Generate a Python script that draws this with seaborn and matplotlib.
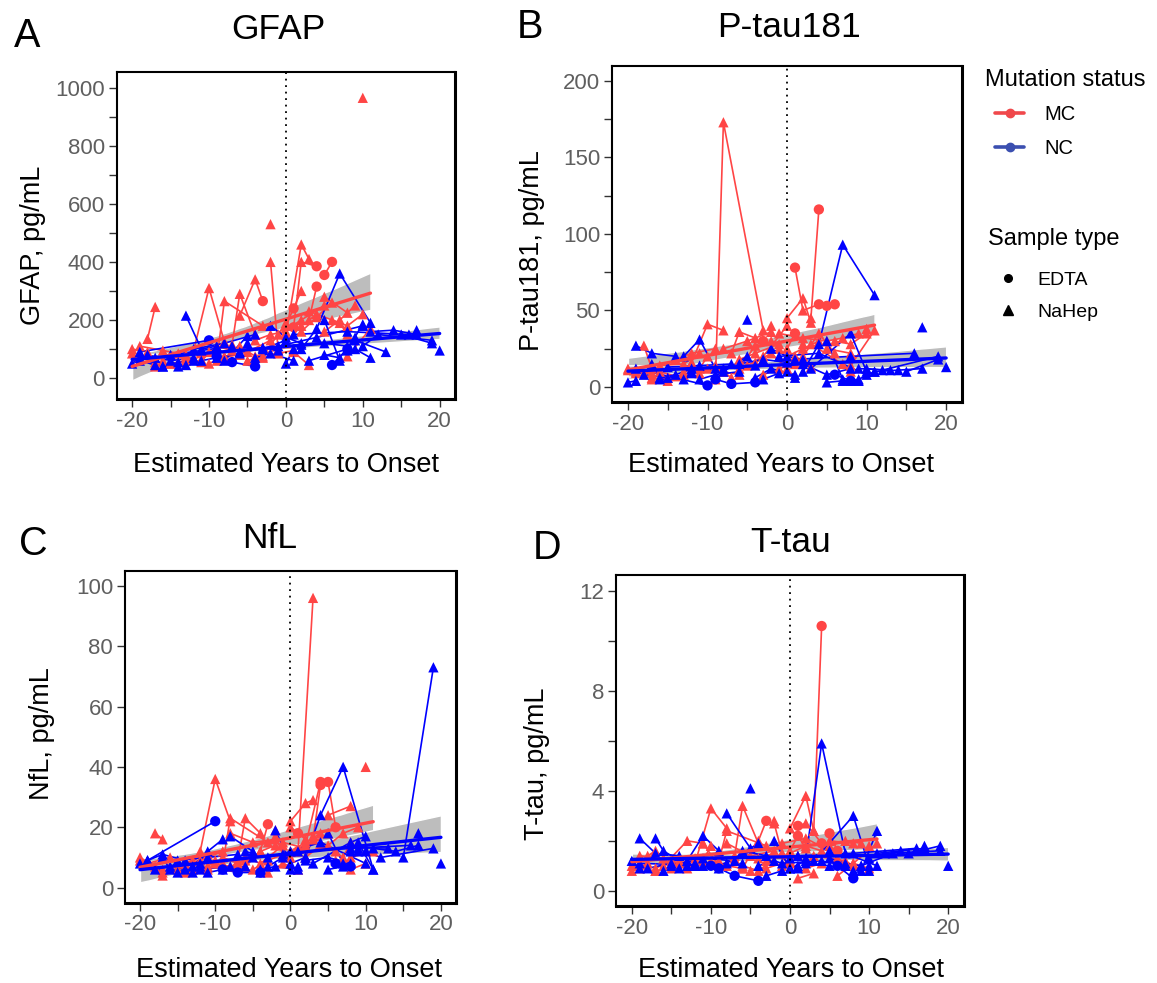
import numpy as np
import pandas as pd
import matplotlib
matplotlib.use("Agg")
import matplotlib.pyplot as plt
import seaborn as sns
from matplotlib.lines import Line2D

# ---- data: one inner list per participant, visits in order of EYO ----
# sample codes: N = NaHep, E = EDTA
mc_eyo = [[-20, -18], [-18, -17], [-17, -15, -13], [-16, -13, -11], [-12, -10, -8],
          [-9, -8, -3], [-7, -6, -4], [-6, -4, -3], [-2], [-2, -1],
          [0, 2, 3], [1, 2, 4], [3, 4], [5, 6], [5, 8],
          [8, 11], [10], [1, 3], [-10, -8, -6], [-14, -12, -9],
          [-6, -4, -1], [-3, -1, 1], [-1, 2, 5], [-17, -15], [6, 8, 10],
          [-8, -5, -2], [0, 1, 2], [-19, -16, -14], [-11, -9, -7], [2, 4, 6],
          [-5, -3, 0], [3, 7, 8], [-20, -19, -17], [-13, -11, -10], [-4, -2, 0],
          [0, 2, 4], [5, 7, 9]]
mc_sample = [["N", "N"], ["N", "N"], ["N", "N", "N"], ["N", "N", "N"], ["N", "N", "N"],
             ["N", "N", "N"], ["N", "N", "N"], ["N", "N", "E"], ["N"], ["N", "N"],
             ["N", "N", "N"], ["E", "N", "E"], ["N", "E"], ["E", "E"], ["N", "N"],
             ["N", "N"], ["N"], ["N", "N"], ["N", "N", "N"], ["N", "N", "N"],
             ["N", "N", "N"], ["N", "N", "N"], ["N", "N", "N"], ["N", "N"], ["N", "N", "N"],
             ["N", "N", "N"], ["N", "E", "N"], ["N", "N", "N"], ["N", "N", "N"], ["N", "N", "N"],
             ["N", "N", "N"], ["N", "N", "N"], ["N", "N", "N"], ["N", "N", "N"], ["N", "N", "N"],
             ["N", "N", "N"], ["N", "N", "N"]]
mc_gfap = [[100, 90], [135, 245], [45, 50, 60], [60, 80, 90], [95, 310, 125],
           [60, 265, 180], [115, 290, 150], [215, 340, 265], [530], [400, 95],
           [150, 460, 410], [175, 400, 385], [200, 315], [355, 400], [280, 225],
           [75, 170], [965], [90, 45], [50, 75, 80], [55, 65, 95],
           [110, 75, 100], [70, 85, 95], [150, 200, 250], [40, 50], [200, 180, 220],
           [70, 90, 130], [180, 240, 300], [110, 95, 85], [65, 110, 95], [160, 210, 260],
           [60, 75, 190], [230, 190, 150], [85, 70, 55], [70, 55, 90], [130, 150, 160],
           [120, 180, 220], [160, 200, 250]]
mc_ptau = [[11, 9], [27, 12], [6, 4, 8], [14, 15, 22], [16, 41, 37],
           [5, 173, 37], [22, 36, 32], [12, 27, 30], [40], [30, 25],
           [45, 58, 42], [78, 50, 54], [45, 116], [53, 54], [25, 22],
           [14, 37], [38], [20, 13], [12, 10, 8], [18, 22, 25],
           [18, 22, 28], [8, 12, 15], [35, 32, 30], [5, 6], [30, 28, 35],
           [25, 30, 36], [25, 35, 28], [9, 10, 7], [9, 14, 6], [20, 35, 22],
           [14, 20, 40], [28, 15, 10], [12, 10, 9], [10, 12, 20], [16, 22, 12],
           [20, 25, 30], [30, 32, 35]]
mc_nfl = [[10, 7], [18, 16], [5, 8, 6], [7, 9, 11], [12, 36, 22],
          [8, 23, 15], [9, 23, 18], [7, 12, 21], [19], [17, 11],
          [22, 28, 29], [12, 14, 35], [16, 34], [35, 20], [24, 27],
          [10, 12], [40], [12, 96], [8, 7, 9], [8, 9, 12],
          [10, 8, 14], [5, 8, 6], [15, 13, 18], [4, 6], [9, 6, 8],
          [18, 15, 16], [20, 18, 16], [8, 10, 5], [6, 10, 8], [10, 14, 12],
          [6, 9, 12], [17, 10, 15], [9, 8, 6], [6, 7, 9], [12, 14, 10],
          [12, 15, 18], [14, 18, 20]]
mc_ttau = [[0.8, 1.1], [1.4, 1.6], [0.9, 1.2, 1.0], [1.0, 2.0, 1.9], [1.1, 3.3, 2.5],
           [1.2, 2.4, 1.8], [1.4, 3.4, 1.9], [0.9, 2.0, 2.8], [2.8], [2.7, 1.5],
           [2.5, 3.8, 2.4], [2.6, 2.7, 1.9], [2.4, 10.6], [2.3, 1.6], [2.0, 1.9],
           [1.1, 1.9], [1.8], [0.5, 0.7], [1.2, 1.0, 0.9], [1.1, 1.3, 1.5],
           [1.0, 0.8, 1.5], [1.2, 1.0, 1.4], [1.9, 2.1, 1.6], [0.8, 0.9], [0.6, 1.1, 0.9],
           [1.9, 1.4, 1.6], [1.6, 2.2, 1.7], [1.4, 1.3, 1.2], [1.9, 1.0, 1.3], [0.9, 1.1, 1.3],
           [0.8, 0.9, 1.2], [1.4, 1.2, 1.0], [1.0, 0.9, 0.8], [0.9, 1.2, 1.8], [1.3, 1.5, 1.1],
           [1.5, 1.8, 1.6], [1.8, 2.0, 1.9]]

nc_eyo = [[-20, -19], [-19, -17, -14], [-17, -16, -13], [-16, -14, -12], [-13, -11, -9],
          [-19, -10], [-9, -7, -4], [-8, -5], [-5], [-6, -3, 0],
          [-2, 0, 2], [0, 1], [2, 4, 7, 11], [3, 8, 10], [5, 7],
          [6, 8], [9, 13], [15, 19], [17], [20],
          [1, 8, 16], [-1, 4, 10], [-15, -11, -7], [8, 9, 11], [-3, -1],
          [5, 7, 9], [-12, -8, -4], [10, 12, 19], [-18, -15, -12], [-11, -9, -6],
          [-4, -2, 1], [2, 5, 8], [11, 14, 17]]
nc_sample = [["N", "N"], ["N", "N", "N"], ["N", "N", "N"], ["N", "N", "N"], ["N", "N", "N"],
             ["N", "E"], ["E", "E", "E"], ["N", "N"], ["N"], ["N", "N", "N"],
             ["N", "N", "N"], ["N", "N"], ["N", "N", "N", "N"], ["N", "N", "N"], ["N", "N"],
             ["E", "E"], ["N", "N"], ["N", "N"], ["N"], ["N"],
             ["N", "N", "N"], ["N", "N", "N"], ["N", "N", "N"], ["N", "N", "N"], ["N", "N"],
             ["N", "N", "N"], ["N", "N", "N"], ["N", "N", "N"], ["N", "N", "N"], ["N", "N", "N"],
             ["N", "N", "N"], ["N", "N", "N"], ["N", "N", "N"]]
nc_gfap = [[50, 70], [60, 45, 40], [70, 40, 45], [40, 55, 60], [215, 100, 110],
           [90, 130], [75, 55, 40], [60, 145], [120], [90, 100, 130],
           [180, 140, 120], [50, 100], [100, 170, 360, 190], [60, 100, 185], [200, 60],
           [45, 100], [130, 90], [150, 120], [165], [95],
           [150, 160, 150], [110, 140, 180], [80, 95, 110], [95, 100, 70], [105, 95],
           [80, 70, 140], [100, 120, 150], [110, 150, 130], [80, 60, 70], [60, 70, 85],
           [70, 85, 60], [115, 120, 110], [160, 165, 150]]
nc_ptau = [[3, 4], [27, 22, 20], [15, 5, 5], [6, 8, 12], [20, 31, 12],
           [12, 1], [5, 2, 3], [10, 20], [44], [15, 18, 16],
           [25, 20, 18], [10, 6], [10, 28, 93, 60], [12, 35, 10], [30, 5],
           [8, 4], [12, 11], [10, 18], [39], [13],
           [18, 20, 22], [20, 22, 8], [13, 14, 15], [4, 5, 10], [5, 9],
           [3, 4, 4], [10, 12, 14], [12, 11, 20], [8, 6, 9], [5, 8, 10],
           [6, 12, 8], [15, 8, 12], [10, 11, 12]]
nc_nfl = [[8, 9], [9, 11, 9], [10, 6, 5], [7, 6, 8], [7, 12, 16],
          [9, 22], [6, 5, 5], [17, 12], [10], [12, 10, 12],
          [19, 8, 10], [6, 7], [10, 24, 40, 6], [8, 15, 17], [18, 8],
          [8, 7], [13, 13], [10, 73], [18], [8],
          [12, 13, 14], [11, 15, 8], [9, 10, 11], [12, 15, 6], [7, 10],
          [6, 7, 12], [6, 7, 5], [12, 10, 13], [6, 5, 7], [5, 6, 7],
          [6, 7, 6], [9, 10, 8], [13, 12, 14]]
nc_ttau = [[1.2, 0.9], [2.1, 1.5, 1.4], [2.1, 1.6, 1.0], [0.8, 0.9, 1.1], [1.2, 2.2, 1.6],
           [1.1, 1.0], [0.9, 0.6, 0.4], [3.1, 1.7], [4.1], [1.6, 1.4, 1.3],
           [2.0, 0.9, 1.2], [0.9, 1.0], [1.3, 5.9, 1.5, 1.0], [1.2, 3.0, 1.0], [1.6, 1.0],
           [1.0, 0.5], [1.0, 1.5], [1.5, 1.8], [1.8], [1.0],
           [1.4, 1.5, 1.7], [1.1, 1.2, 0.8], [1.0, 1.3, 1.2], [0.7, 0.8, 2.4], [0.6, 0.8],
           [1.3, 1.1, 1.0], [1.0, 1.1, 1.9], [1.3, 1.5, 1.6], [0.9, 1.1, 1.0], [1.0, 0.9, 1.1],
           [1.0, 1.2, 0.9], [1.1, 1.0, 0.8], [1.5, 1.6, 1.7]]

# ---- long table ----
sample_names = {"N": "NaHep", "E": "EDTA"}
rows = []
groups = [("MC", mc_eyo, mc_sample, mc_gfap, mc_ptau, mc_nfl, mc_ttau),
          ("NC", nc_eyo, nc_sample, nc_gfap, nc_ptau, nc_nfl, nc_ttau)]
for status, eyo, smp, gf, pt, nf, tt in groups:
    for i in range(len(eyo)):
        for j in range(len(eyo[i])):
            rows.append({"subj": f"{status}{i}", "status": status, "eyo": eyo[i][j],
                         "sample": sample_names[smp[i][j]], "GFAP": gf[i][j],
                         "Ptau": pt[i][j], "NfL": nf[i][j], "Ttau": tt[i][j]})
df = pd.DataFrame(rows)

sns.set_style("ticks")
plt.rcParams["font.family"] = ["Liberation Sans", "DejaVu Sans"]
plt.rcParams["text.color"] = "black"
plt.rcParams["axes.labelcolor"] = "black"

pal = {"MC": "#FF4545", "NC": "#0000FF"}
tick_col = "#5f5f5f"

fig = plt.figure(figsize=(11.57, 9.83), dpi=100)

panels = [
    # col, title, ylabel, rect, ylim, ytick step, label every, title xy, ylabel xy, xlabel xy, letter, letter xy
    ("GFAP", "GFAP", "GFAP, pg/mL", [0.1009, 0.5941, 0.2924, 0.3327], (-72, 1054), 100, 2,
     (0.4768, 1.0765), (-0.2474, 0.471), (0.5, -0.2232), "A", (27.5, 47)),
    ("Ptau", "P-tau181", "P-tau181, pg/mL", [0.5290, 0.5911, 0.3025, 0.3418], (-9.8, 209.8), 25, 2,
     (0.507, 1.0625), (-0.230, 0.45), (0.483, -0.2083), "B", (530, 38)),
    ("NfL", "NfL", "NfL, pg/mL", [0.1080, 0.0817, 0.2861, 0.3377], (-5, 105), 20, 1,
     (0.4366, 1.0443), (-0.2517, 0.5096), (0.4955, -0.2238), "C", (33, 555)),
    ("Ttau", "T-tau", "T-tau, pg/mL", [0.5324, 0.0783, 0.3008, 0.3367], (-0.61, 12.64), 2, 2,
     (0.503, 1.0453), (-0.227, 0.4305), (0.503, -0.213), "D", (547, 559)),
]

markers = {"EDTA": "o", "NaHep": "^"}

for col, title, ylab, rect, ylim, ystep, every, txy, ylxy, xlxy, letter, lxy in panels:
    ax = fig.add_axes(rect)
    # group-wise linear fits with CI (band sits under the data)
    for g in ["MC", "NC"]:
        sns.regplot(data=df[df["status"] == g], x="eyo", y=col, scatter=False,
                    color=pal[g], ci=95, seed=3, truncate=True,
                    line_kws={"lw": 2.4, "zorder": 5}, ax=ax)
        band = ax.collections[-1]
        band.set_facecolor("#bdbdbd")
        band.set_alpha(1)
        band.set_zorder(1)
    # individual trajectories
    sns.lineplot(data=df, x="eyo", y=col, hue="status", hue_order=["MC", "NC"],
                 units="subj", estimator=None, sort=True, palette=pal,
                 lw=1.2, legend=False, ax=ax, zorder=2)
    sns.scatterplot(data=df, x="eyo", y=col, hue="status", hue_order=["MC", "NC"],
                    style="sample", markers=markers, palette=pal, s=55,
                    linewidth=0, legend=False, ax=ax, zorder=3)
    ax.axvline(0, color="black", ls=(0, (1, 2.6)), lw=1.3, zorder=6)

    ax.set_xlim(-22, 22)
    ax.set_ylim(*ylim)
    xt = np.arange(-20, 21, 5)
    ax.set_xticks(xt)
    ax.set_xticklabels([f"{v:d}" if v % 10 == 0 else "" for v in xt])
    yt = np.arange(0, ylim[1], ystep)
    ax.set_yticks(yt)
    ax.set_yticklabels([f"{v:g}" if k % every == 0 else "" for k, v in enumerate(yt)])
    ax.tick_params(axis="both", length=5.5, width=1, color="#333333",
                   labelsize=16, labelcolor=tick_col, pad=3, direction="out")
    for side in ["top", "left"]:
        ax.spines[side].set_linewidth(1.5)
        ax.spines[side].set_color("black")
    for side in ["bottom", "right"]:
        ax.spines[side].set_linewidth(2.2)
        ax.spines[side].set_color("black")

    ax.set_xlabel("Estimated Years to Onset", fontsize=19.5)
    ax.xaxis.set_label_coords(*xlxy)
    ax.xaxis.label.set_va("baseline")
    ax.set_ylabel(ylab, fontsize=19.5)
    ax.yaxis.set_label_coords(*ylxy)
    ax.yaxis.label.set_va("center")
    ax.set_title(title, fontsize=25.5, x=txy[0], y=txy[1], va="baseline", color="black")
    fig.text(lxy[0] / 1157, 1 - lxy[1] / 983, letter, fontsize=28.5,
             ha="center", va="baseline")

# ---- legends ----
fig.text(985 / 1157, 1 - 86 / 983, "Mutation status", fontsize=17, va="baseline")
fig.text(988 / 1157, 1 - 245 / 983, "Sample type", fontsize=17, va="baseline")
h_status = [Line2D([], [], color="#F0484B", lw=2.6, marker="o", ms=6),
            Line2D([], [], color="#3B4FB0", lw=2.6, marker="o", ms=6)]
fig.legend(h_status, ["MC", "NC"], loc="upper left",
           bbox_to_anchor=(995 / 1157, 1 - 105 / 983), frameon=False, fontsize=14.5,
           borderpad=0, borderaxespad=0, handlelength=1.45, handletextpad=1.0,
           labelspacing=0.75)
h_sample = [Line2D([], [], color="black", ls="none", marker="o", ms=5.5),
            Line2D([], [], color="black", ls="none", marker="^", ms=6.5)]
fig.legend(h_sample, ["EDTA", "NaHep"], loc="upper left",
           bbox_to_anchor=(1000 / 1157, 1 - 271 / 983), frameon=False, fontsize=14,
           borderpad=0, borderaxespad=0, handlelength=0.8, handletextpad=1.1,
           labelspacing=0.75)

fig.savefig("out.png", dpi=100)
